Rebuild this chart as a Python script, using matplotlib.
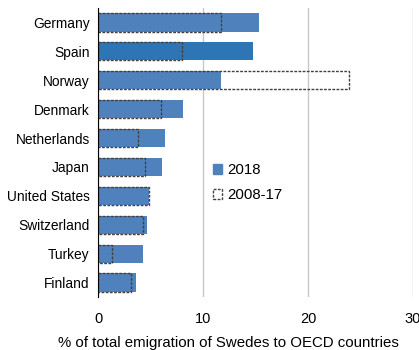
import numpy as np
import matplotlib.pyplot as plt
from matplotlib.patches import Patch

plt.rcParams['font.family'] = ['Liberation Sans', 'DejaVu Sans']

countries = ['Germany', 'Spain', 'Norway', 'Denmark', 'Netherlands', 'Japan',
             'United States', 'Switzerland', 'Turkey', 'Finland']
share_2018 = [15.3, 14.8, 11.7, 8.1, 6.4, 6.1, 4.9, 4.7, 4.3, 3.6]
share_0817 = [11.7, 8.0, 23.9, 6.0, 3.8, 4.5, 4.9, 4.3, 1.3, 3.1]

blue = '#4F81BD'
colors = [blue] * len(countries)
colors[1] = '#2E75B6'

fig = plt.figure(figsize=(4.19, 3.5), dpi=100)
ax = fig.add_axes([98 / 419, 1 - 297 / 350, 315 / 419, 289 / 350])

y = np.arange(len(countries))
ax.barh(y, share_2018, height=0.63, color=colors, zorder=2)
ax.barh(y, share_0817, height=0.63, fill=False, edgecolor='#404040',
        linestyle=(0, (2, 1)), linewidth=1.0, zorder=3)

ax.set_ylim(len(countries) - 0.5, -0.5)
ax.set_yticks(y)
ax.set_yticklabels(countries, fontsize=9.9)
ax.set_xlim(0, 30)
ax.set_xticks([0, 10, 20, 30])
ax.tick_params(axis='x', labelsize=10.5, length=0, pad=11)
ax.tick_params(axis='y', length=0, pad=6)
ax.grid(axis='x', color='#C8C8C8', linewidth=1.0, zorder=0)
for s in ['top', 'right', 'bottom']:
    ax.spines[s].set_visible(False)
ax.spines['left'].set_color('black')
ax.spines['left'].set_zorder(4)

handles = [Patch(facecolor=blue, edgecolor=blue, label='2018'),
           Patch(facecolor='white', edgecolor='#404040', linestyle=(0, (2, 1)),
                 label='2008-17')]
ax.legend(handles=handles, loc='upper left', bbox_to_anchor=(0.345, 0.485),
          frameon=False, fontsize=10.8, handlelength=0.65, handleheight=0.65,
          handletextpad=0.35, labelspacing=0.75, borderaxespad=0)

fig.text(228 / 419, 0 / 350, '% of total emigration of Swedes to OECD countries',
         ha='center', va='bottom', fontsize=10.8)

fig.savefig('out.png', dpi=100)
